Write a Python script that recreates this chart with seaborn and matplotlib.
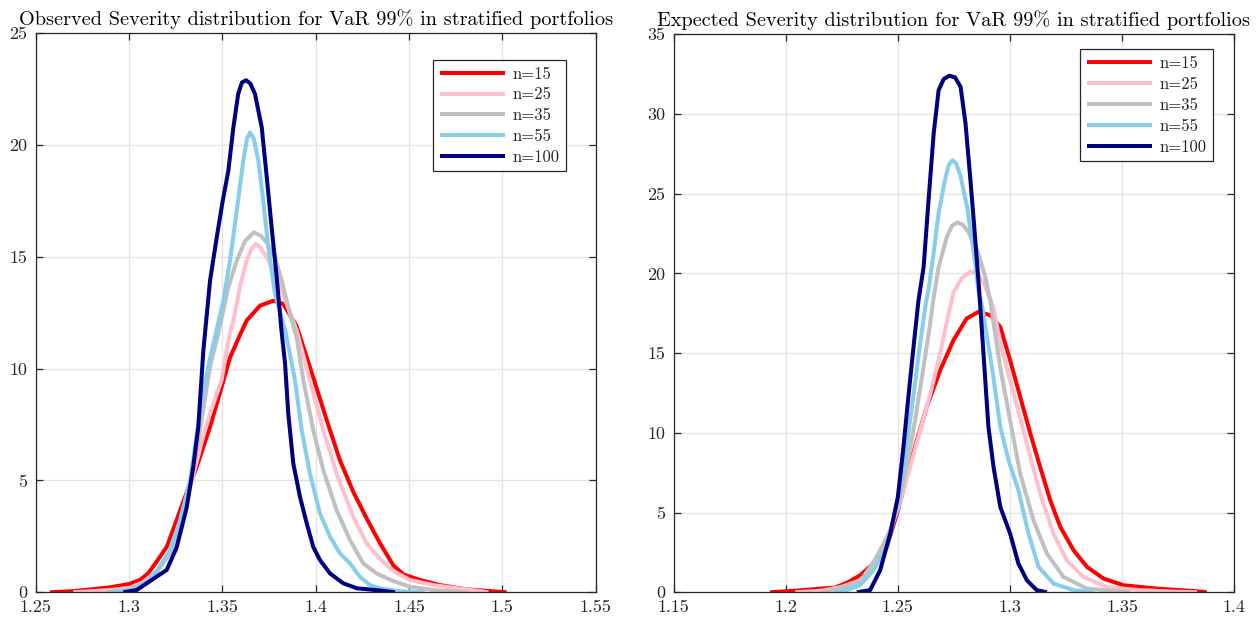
import numpy as np
import pandas as pd
import matplotlib
matplotlib.use("Agg")
import matplotlib.pyplot as plt
import seaborn as sns

# ---------------- data ----------------
series_labels = ["n=15", "n=25", "n=35", "n=55", "n=100"]
series_colors = ["#ff0000", "#ffc0cb", "#c0c0c0", "#87ceeb", "#000080"]

# Left panel: Observed Severity
obs_x_15 = [1.2577, 1.2701, 1.2898, 1.3000, 1.3059, 1.3103, 1.3148, 1.3202, 1.3255, 1.3300, 1.3362,
            1.3434, 1.3496, 1.3541, 1.3594, 1.3630, 1.3702, 1.3773, 1.3826, 1.3898, 1.3987, 1.4059,
            1.4130, 1.4201, 1.4273, 1.4344, 1.4416, 1.4470, 1.4559, 1.4666, 1.4809, 1.5023]
obs_y_15 = [0.0, 0.05, 0.22, 0.37, 0.55, 0.85, 1.37, 2.03, 3.23, 4.27, 5.6,
            7.4, 9.18, 10.5, 11.5, 12.15, 12.82, 13.04, 12.9, 11.9, 9.6, 7.7,
            5.9, 4.5, 3.3, 2.2, 1.2, 0.8, 0.55, 0.32, 0.13, 0.0]

obs_x_25 = [1.2701, 1.2898, 1.3005, 1.3076, 1.3148, 1.3220, 1.3273, 1.3327, 1.3398, 1.3434, 1.3496,
            1.3532, 1.3559, 1.3594, 1.3630, 1.3655, 1.3680, 1.3705, 1.3738, 1.3791, 1.3845, 1.3898,
            1.3969, 1.4041, 1.4112, 1.4201, 1.4273, 1.4344, 1.4416, 1.4505, 1.4630, 1.4809, 1.4925]
obs_y_25 = [0.0, 0.1, 0.2, 0.45, 0.95, 1.8, 3.0, 4.7, 7.0, 8.0, 9.5,
            11.26, 12.15, 13.64, 14.83, 15.35, 15.58, 15.4, 14.98, 14.09, 12.9, 11.7,
            9.48, 7.25, 5.31, 3.37, 2.18, 1.5, 0.95, 0.55, 0.32, 0.13, 0.0]

obs_x_35 = [1.2880, 1.3005, 1.3076, 1.3148, 1.3220, 1.3273, 1.3327, 1.3362, 1.3398, 1.3434, 1.3478,
            1.3532, 1.3577, 1.3621, 1.3669, 1.3705, 1.3738, 1.3782, 1.3818, 1.3862, 1.3898, 1.3934,
            1.3987, 1.4041, 1.4112, 1.4184, 1.4255, 1.4327, 1.4416, 1.4505, 1.4630, 1.4809]
obs_y_35 = [0.0, 0.13, 0.4, 0.92, 1.74, 2.93, 4.71, 6.35, 8.2, 10.1, 11.56,
            13.64, 14.83, 15.7, 16.1, 15.95, 15.65, 14.98, 13.94, 12.45, 11.4, 9.48,
            7.25, 5.46, 3.67, 2.33, 1.29, 0.84, 0.5, 0.25, 0.1, 0.0]

obs_x_55 = [1.2907, 1.3005, 1.3076, 1.3148, 1.3220, 1.3273, 1.3327, 1.3362, 1.3398, 1.3430, 1.3460,
            1.3505, 1.3541, 1.3577, 1.3612, 1.3632, 1.3648, 1.3668, 1.3693, 1.3719, 1.3746, 1.3782,
            1.3840, 1.3889, 1.3925, 1.3969, 1.4023, 1.4077, 1.4130, 1.4184, 1.4237, 1.4291, 1.4344,
            1.4450, 1.4585]
obs_y_55 = [0.0, 0.1, 0.35, 0.9, 1.9, 3.2, 5.0, 7.0, 9.0, 10.3, 11.4,
            13.04, 14.83, 17.06, 19.3, 20.3, 20.56, 20.3, 19.3, 17.51, 15.43, 13.34,
            11.6, 9.48, 7.25, 5.31, 3.52, 2.48, 1.74, 1.29, 0.69, 0.32, 0.18,
            0.05, 0.0]

obs_x_100 = [1.2969, 1.3041, 1.3095, 1.3148, 1.3202, 1.3255, 1.3309, 1.3344, 1.3371, 1.3398, 1.3434,
             1.3470, 1.3502, 1.3532, 1.3559, 1.3585, 1.3605, 1.3627, 1.3650, 1.3675, 1.3711, 1.3738,
             1.3764, 1.3791, 1.3818, 1.3836, 1.3853, 1.3880, 1.3916, 1.3952, 1.3987, 1.4023, 1.4077,
             1.4148, 1.4220, 1.4344, 1.4425]
obs_y_100 = [0.0, 0.1, 0.4, 0.7, 1.0, 2.0, 3.8, 5.6, 7.4, 10.8, 13.94,
             15.88, 17.51, 18.85, 20.79, 22.3, 22.8, 22.9, 22.75, 22.28, 20.79, 18.55,
             16.32, 14.09, 11.6, 10.22, 8.0, 5.76, 4.26, 3.08, 2.03, 1.44, 0.84,
             0.40, 0.18, 0.08, 0.0]

# Right panel: Expected Severity
exp_x_15 = [1.1930, 1.2042, 1.2220, 1.2280, 1.2332, 1.2391, 1.2451, 1.2496, 1.2540, 1.2585, 1.2629,
            1.2689, 1.2748, 1.2807, 1.2860, 1.2912, 1.2957, 1.3001, 1.3046, 1.3091, 1.3135, 1.3180,
            1.3225, 1.3284, 1.3344, 1.3418, 1.3507, 1.3656, 1.3820, 1.3879]
exp_y_15 = [0.0, 0.1, 0.3, 0.64, 1.07, 1.8, 2.85, 4.94, 7.24, 9.54, 11.63,
            13.93, 15.81, 17.17, 17.59, 17.38, 16.65, 14.56, 12.26, 9.96, 7.86, 5.77,
            4.1, 2.64, 1.59, 0.86, 0.44, 0.23, 0.08, 0.0]

exp_x_25 = [1.2042, 1.2161, 1.2250, 1.2332, 1.2421, 1.2466, 1.2503, 1.2555, 1.2600, 1.2644, 1.2689,
            1.2719, 1.2748, 1.2785, 1.2823, 1.2855, 1.2882, 1.2927, 1.2957, 1.3016, 1.3076, 1.3135,
            1.3194, 1.3254, 1.3328, 1.3433, 1.3582, 1.3730, 1.3835]
exp_y_25 = [0.0, 0.1, 0.35, 0.75, 2.22, 3.89, 5.36, 7.87, 10.17, 12.4, 15.0,
            17.0, 18.8, 19.7, 20.1, 20.0, 19.4, 17.9, 15.6, 12.5, 9.32, 6.19,
            3.68, 2.01, 0.96, 0.33, 0.13, 0.04, 0.0]

exp_x_35 = [1.2153, 1.2250, 1.2332, 1.2406, 1.2466, 1.2500, 1.2540, 1.2577, 1.2615, 1.2644, 1.2660,
            1.2682, 1.2719, 1.2742, 1.2766, 1.2790, 1.2815, 1.2853, 1.2890, 1.2912, 1.2957, 1.3001,
            1.3046, 1.3105, 1.3165, 1.3239, 1.3344, 1.3537]
exp_y_35 = [0.0, 0.3, 0.65, 2.22, 3.89, 5.36, 7.87, 10.8, 14.15, 16.85, 18.5,
            20.4, 22.3, 23.0, 23.2, 23.05, 22.6, 21.5, 19.8, 18.3, 14.1, 10.77,
            7.44, 4.52, 2.43, 0.96, 0.23, 0.0]

exp_x_55 = [1.2213, 1.2275, 1.2332, 1.2391, 1.2451, 1.2496, 1.2533, 1.2563, 1.2592, 1.2622, 1.2637,
            1.2660, 1.2682, 1.2711, 1.2727, 1.2744, 1.2760, 1.2780, 1.2810, 1.2839, 1.2861, 1.2875,
            1.2920, 1.2957, 1.2994, 1.3038, 1.3083, 1.3128, 1.3195, 1.3284, 1.3373]
exp_y_55 = [0.0, 0.15, 0.44, 1.38, 2.85, 5.36, 8.5, 11.63, 14.78, 17.9, 19.0,
            21.3, 23.8, 25.9, 26.8, 27.1, 26.9, 26.1, 24.1, 21.3, 18.8, 18.0,
            14.1, 10.4, 8.28, 6.4, 3.68, 1.59, 0.54, 0.13, 0.0]

exp_x_100 = [1.2317, 1.2376, 1.2421, 1.2466, 1.2500, 1.2525, 1.2547, 1.2570, 1.2592, 1.2615, 1.2637,
             1.2660, 1.2682, 1.2705, 1.2730, 1.2755, 1.2780, 1.2802, 1.2823, 1.2841, 1.2861, 1.2882,
             1.2904, 1.2927, 1.2957, 1.3001, 1.3038, 1.3076, 1.3120, 1.3165]
exp_y_100 = [0.0, 0.13, 1.38, 3.68, 5.98, 9.1, 12.26, 15.4, 18.3, 20.4, 24.6,
             28.8, 31.5, 32.2, 32.4, 32.3, 31.7, 29.4, 26.0, 22.9, 19.3, 15.0,
             10.4, 7.86, 5.36, 3.68, 1.80, 0.75, 0.13, 0.0]

left_title = "Observed Severity distribution for VaR 99% in stratified portfolios"
right_title = "Expected Severity distribution for VaR 99% in stratified portfolios"

left_xticks = [1.25, 1.30, 1.35, 1.40, 1.45, 1.50, 1.55]
left_xticklabels = ["1.25", "1.3", "1.35", "1.4", "1.45", "1.5", "1.55"]
left_yticks = [0, 5, 10, 15, 20, 25]
right_xticks = [1.15, 1.20, 1.25, 1.30, 1.35, 1.40]
right_xticklabels = ["1.15", "1.2", "1.25", "1.3", "1.35", "1.4"]
right_yticks = [0, 5, 10, 15, 20, 25, 30, 35]

obs_series = [(obs_x_15, obs_y_15), (obs_x_25, obs_y_25), (obs_x_35, obs_y_35),
              (obs_x_55, obs_y_55), (obs_x_100, obs_y_100)]
exp_series = [(exp_x_15, exp_y_15), (exp_x_25, exp_y_25), (exp_x_35, exp_y_35),
              (exp_x_55, exp_y_55), (exp_x_100, exp_y_100)]

# ---------------- style ----------------
sns.set_theme(style="white")
plt.rcParams["font.family"] = ["cmr10", "DejaVu Serif"]
plt.rcParams["axes.formatter.use_mathtext"] = True
plt.rcParams["axes.unicode_minus"] = False

fig = plt.figure(figsize=(12.57, 6.2), dpi=100)
ax_l = fig.add_axes([0.0284, 0.0447, 0.4455, 0.9016])
ax_r = fig.add_axes([0.5360, 0.0447, 0.4457, 0.9000])


def draw(ax, series, title, xlim, xticks, xticklabels, ylim, yticks, leg_anchor):
    for (xs, ys), lab, col in zip(series, series_labels, series_colors):
        df = pd.DataFrame({"x": xs, "y": ys})
        sns.lineplot(data=df, x="x", y="y", ax=ax, color=col, lw=2.9,
                     label=lab, sort=False, estimator=None,
                     solid_joinstyle="round", solid_capstyle="butt")
    ax.set_xlim(*xlim)
    ax.set_ylim(*ylim)
    ax.set_xticks(xticks)
    ax.set_xticklabels(xticklabels)
    ax.set_yticks(yticks)
    ax.set_yticklabels([str(t) for t in yticks])
    ax.set_xlabel("")
    ax.set_ylabel("")
    ax.grid(True, color="#e3e3e3", lw=0.9)
    ax.set_axisbelow(True)
    for s in ax.spines.values():
        s.set_color("#262626")
        s.set_linewidth(0.9)
    ax.tick_params(direction="in", length=5, width=0.9, colors="#262626",
                   top=True, right=True, bottom=True, left=True,
                   labelsize=13)
    ax.tick_params(axis="x", pad=5)
    ax.tick_params(axis="y", pad=6)
    for lbl in ax.get_xticklabels() + ax.get_yticklabels():
        lbl.set_color("#262626")
    ax.set_title(title, fontsize=14.6, pad=6, color="#000000")
    leg = ax.legend(loc="upper right", bbox_to_anchor=leg_anchor, borderaxespad=0,
                    fontsize=12, frameon=True, fancybox=False, framealpha=1,
                    edgecolor="#262626", handlelength=3.9, handletextpad=0.45,
                    labelspacing=0.33, borderpad=0.4)
    leg.get_frame().set_linewidth(0.9)


draw(ax_l, obs_series, left_title, (1.25, 1.55), left_xticks, left_xticklabels,
     (0, 25), left_yticks, (0.947, 0.953))
draw(ax_r, exp_series, right_title, (1.15, 1.40), right_xticks, right_xticklabels,
     (0, 35), right_yticks, (0.963, 0.973))

fig.savefig("out.png", dpi=100)
